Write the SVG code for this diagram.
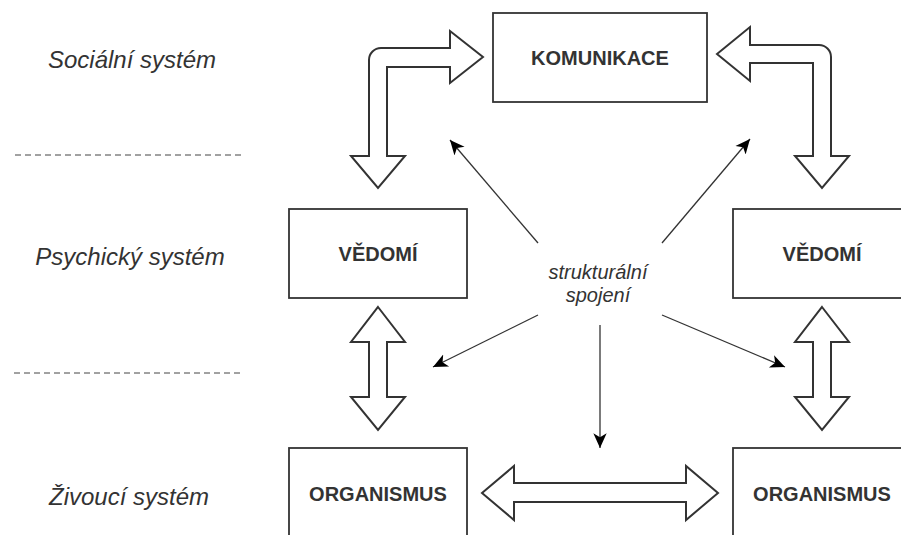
<svg xmlns="http://www.w3.org/2000/svg" width="901" height="535" viewBox="0 0 901 535">
<style>
  .box { fill: #ffffff; stroke: #333333; stroke-width: 1.8; }
  .blk { fill: #ffffff; stroke: #333333; stroke-width: 2; stroke-linejoin: miter; }
  .lbl { font-family: "Liberation Sans", Arial, sans-serif; font-weight: bold; font-size: 20px; fill: #333333; text-anchor: middle; }
  .side { font-family: "Liberation Sans", Arial, sans-serif; font-style: italic; font-size: 24px; fill: #333333; text-anchor: middle; }
  .mid { font-family: "Liberation Sans", Arial, sans-serif; font-style: italic; font-size: 20px; fill: #333333; text-anchor: middle; }
  .conn { stroke: #333333; stroke-width: 1.3; fill: none; marker-end: url(#ah); }
  .dash { stroke: #444444; stroke-width: 1; stroke-dasharray: 6 4; fill: none; }
</style>
<defs>
  <marker id="ah" markerUnits="userSpaceOnUse" markerWidth="16" markerHeight="16" viewBox="0 0 12 12" refX="11" refY="6" orient="auto">
    <path d="M0,1 L11,6 L0,11 L3,6 Z" fill="#000000"/>
  </marker>
</defs>
<rect width="901" height="535" fill="#ffffff"/>

<g id="levels">
  <text class="side" x="132" y="68">Sociální systém</text>
  <text class="side" x="130" y="265">Psychický systém</text>
  <text class="side" x="129" y="505">Živoucí systém</text>
  <line class="dash" x1="15" y1="155" x2="243" y2="155"/>
  <line class="dash" x1="14" y1="373" x2="243" y2="373"/>
</g>

<g id="komunikace">
  <rect class="box" x="493" y="13" width="214" height="89"/>
  <text class="lbl" x="600" y="65">KOMUNIKACE</text>
</g>
<g id="vedomi-left">
  <rect class="box" x="289" y="209" width="178" height="89"/>
  <text class="lbl" x="378" y="261">VĚDOMÍ</text>
</g>
<g id="vedomi-right">
  <rect class="box" x="733" y="209" width="178" height="89"/>
  <text class="lbl" x="822" y="261">VĚDOMÍ</text>
</g>
<g id="organismus-left">
  <rect class="box" x="289" y="448" width="178" height="100"/>
  <text class="lbl" x="378" y="501">ORGANISMUS</text>
</g>
<g id="organismus-right">
  <rect class="box" x="733" y="448" width="178" height="100"/>
  <text class="lbl" x="822" y="501">ORGANISMUS</text>
</g>
<g id="coupling-label">
  <text class="mid" x="598" y="279">strukturální</text>
  <text class="mid" x="598" y="302">spojení</text>
</g>

<g id="connectors">
  <path class="blk" d="M483,57 L450,83 L450,67 L387,67 L387,156 L405,156 L378,188 L351,156 L369,156 L369,60 A12,12 0 0 1 381,48 L450,48 L450,31 Z"/>
  <path class="blk" d="M717,54 L750,27 L750,45 L819,45 A12,12 0 0 1 831,57 L831,156 L849,156 L822,188 L795,156 L813,156 L813,63 L750,63 L750,81 Z"/>
  <path class="blk" d="M378,307 L405,342 L387,342 L387,397 L405,397 L378,430 L351,397 L369,397 L369,342 L351,342 Z"/>
  <path class="blk" d="M822,307 L849,342 L831,342 L831,397 L849,397 L822,430 L795,397 L813,397 L813,342 L795,342 Z"/>
  <path class="blk" d="M482,493 L514,466 L514,483 L686,483 L686,466 L718,493 L686,520 L686,502 L514,502 L514,520 Z"/>
  <line class="conn" x1="538" y1="243" x2="450" y2="140"/>
  <line class="conn" x1="662" y1="243" x2="750" y2="139"/>
  <line class="conn" x1="538" y1="315" x2="433" y2="367"/>
  <line class="conn" x1="600" y1="325" x2="600" y2="448"/>
  <line class="conn" x1="662" y1="315" x2="785" y2="367"/>
</g>
</svg>
